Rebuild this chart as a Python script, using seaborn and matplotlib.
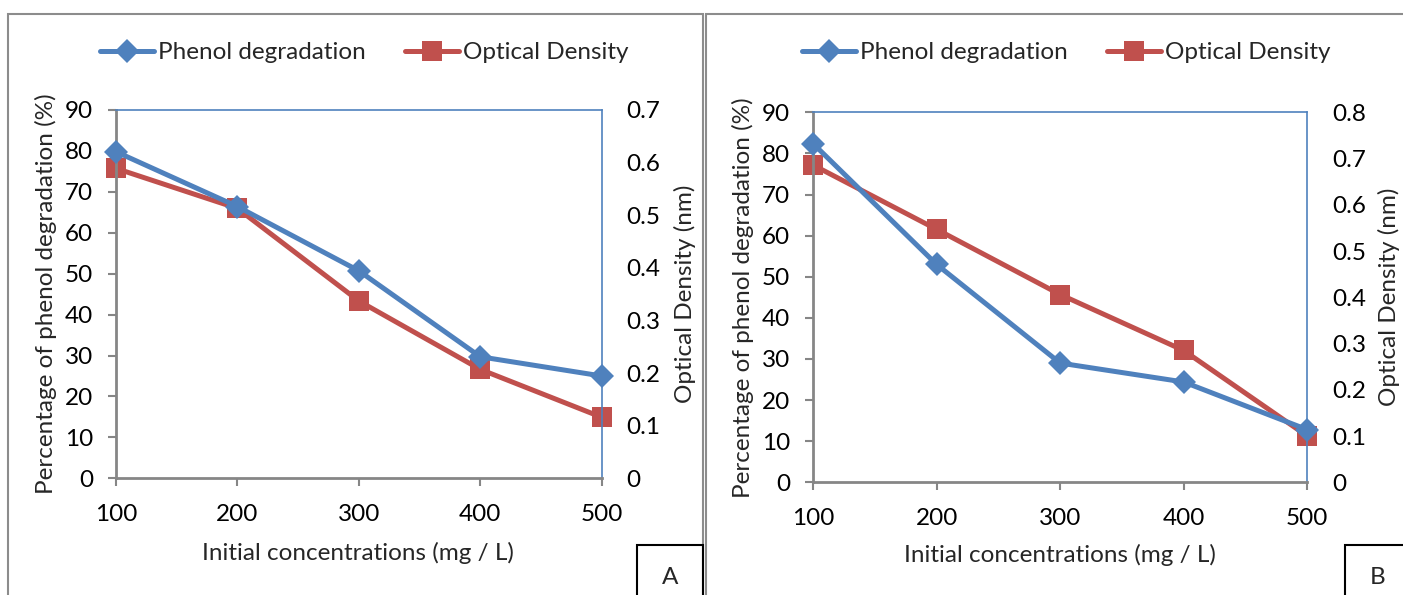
import matplotlib
matplotlib.use("Agg")
import matplotlib.pyplot as plt
import seaborn as sns
import pandas as pd
from matplotlib.patches import Rectangle
from matplotlib.lines import Line2D

sns.set_theme(style="white")
plt.rcParams['font.family'] = ['Lato', 'DejaVu Sans']

concentrations = [100, 200, 300, 400, 500]
phenol_A = [79.8, 66.4, 50.7, 29.7, 25.0]
od_A = [0.589, 0.513, 0.337, 0.207, 0.116]
phenol_B = [82.4, 53.0, 29.0, 24.4, 12.8]
od_B = [0.686, 0.547, 0.406, 0.285, 0.10]
x_ticks = [100, 200, 300, 400, 500]
left_ticks = [0, 10, 20, 30, 40, 50, 60, 70, 80, 90]
right_ticks_A = [0, 0.1, 0.2, 0.3, 0.4, 0.5, 0.6, 0.7]
right_ticks_B = [0, 0.1, 0.2, 0.3, 0.4, 0.5, 0.6, 0.7, 0.8]
panel_labels = ["A", "B"]

BLUE = "#4F81BD"
RED = "#C0504D"
GRAY = "#868686"
FS = 17.5
LW = 3.6
DMS = 12    # diamond marker size
SMS = 14    # square marker size

W, H = 1403, 595
fig = plt.figure(figsize=(W / 100, H / 100), dpi=100)


def fx(px):
    return px / W


def fy(py):
    return 1 - py / H


# outer panel borders
fig.patches.append(Rectangle((fx(8), fy(640)), fx(703 - 8), fy(14) - fy(640),
                             transform=fig.transFigure, fill=False, edgecolor="#8c8c8c", lw=1.5))
fig.patches.append(Rectangle((fx(706), fy(640)), fx(1420 - 706), fy(14) - fy(640),
                             transform=fig.transFigure, fill=False, edgecolor="#8c8c8c", lw=1.5))

panels = [
    dict(box=(116, 601.7, 110, 478.3), ph=phenol_A, od=od_A, rt=right_ticks_A, rmax=0.7,
         leg_x=100, lab=(637, 703), rlabx=685, xlabx=358, xlaby=553),
    dict(box=(813, 1307.3, 112.3, 482.3), ph=phenol_B, od=od_B, rt=right_ticks_B, rmax=0.8,
         leg_x=802, lab=(1345, 1420), rlabx=1389, xlabx=1060, xlaby=555),
]

for i, p in enumerate(panels):
    l, r, t, b = p["box"]
    ax = fig.add_axes([fx(l), fy(b), fx(r - l), fy(t) - fy(b)])
    ax2 = ax.twinx()
    df1 = pd.DataFrame({"x": concentrations, "y": p["ph"]})
    df2 = pd.DataFrame({"x": concentrations, "y": p["od"]})
    sns.lineplot(data=df1, x="x", y="y", ax=ax, color=BLUE, lw=LW, marker="D",
                 markersize=DMS, markeredgewidth=0, clip_on=False, zorder=3)
    sns.lineplot(data=df2, x="x", y="y", ax=ax2, color=RED, lw=LW, marker="s",
                 markersize=SMS, markeredgewidth=0, clip_on=False, zorder=4)
    ax.set_xlim(100, 500)
    ax.set_ylim(0, 90)
    ax2.set_ylim(0, p["rmax"])
    ax.set_xticks(x_ticks)
    ax.set_yticks(left_ticks)
    ax2.set_yticks(p["rt"])
    ax2.set_yticklabels([("%g" % v) for v in p["rt"]])
    ax.tick_params(axis="both", labelsize=FS, colors=GRAY, labelcolor="black",
                   length=6, width=1.5, direction="out")
    ax.tick_params(axis="y", pad=10.5)
    ax.tick_params(axis="x", pad=12.5)
    ax.tick_params(left=True, bottom=True)
    ax2.tick_params(axis="y", labelsize=FS, length=0, pad=18, labelcolor="black")
    for s in ["left", "bottom"]:
        ax.spines[s].set_color(GRAY)
        ax.spines[s].set_linewidth(2)
    for s in ["top", "right"]:
        ax.spines[s].set_color(BLUE)
        ax.spines[s].set_linewidth(1.2)
    for s in ax2.spines.values():
        s.set_visible(False)
    ax.set_xlabel("")
    ax.set_ylabel("")
    ax2.set_ylabel("")
    ax.set_zorder(ax2.get_zorder() + 1)
    ax.patch.set_visible(False)
    # axis titles
    fig.text(fx(p["xlabx"]), fy(p["xlaby"]), "Initial concentrations (mg / L)", fontsize=FS,
             ha="center", va="center")
    fig.text(fx(l - 70), fy((t + b) / 2), "Percentage of phenol degradation (%)", fontsize=FS,
             rotation=90, ha="center", va="center")
    fig.text(fx(p["rlabx"]), fy((t + b) / 2), "Optical Density (nm)", fontsize=FS,
             rotation=90, ha="center", va="center")
    # legend
    handles = [
        Line2D([], [], color=BLUE, lw=LW, marker="D", markersize=DMS, markeredgewidth=0),
        Line2D([], [], color=RED, lw=LW, marker="s", markersize=SMS, markeredgewidth=0),
    ]
    fig.legend(handles, ["Phenol degradation", "Optical Density"], loc="center left",
               bbox_to_anchor=(fx(p["leg_x"]), fy(52.5)), ncol=2, frameon=False,
               fontsize=FS, handlelength=2.22, handletextpad=0.17, columnspacing=1.6,
               borderaxespad=0, borderpad=0)
    # panel letter box
    bl, br = p["lab"]
    fig.patches.append(Rectangle((fx(bl), fy(640)), fx(br - bl), fy(545) - fy(640),
                                 transform=fig.transFigure, fill=False, edgecolor="black", lw=1.5))
    fig.text(fx(bl + 33), fy(577), panel_labels[i], fontsize=FS, ha="center", va="center")

fig.savefig("out.png", dpi=100)
